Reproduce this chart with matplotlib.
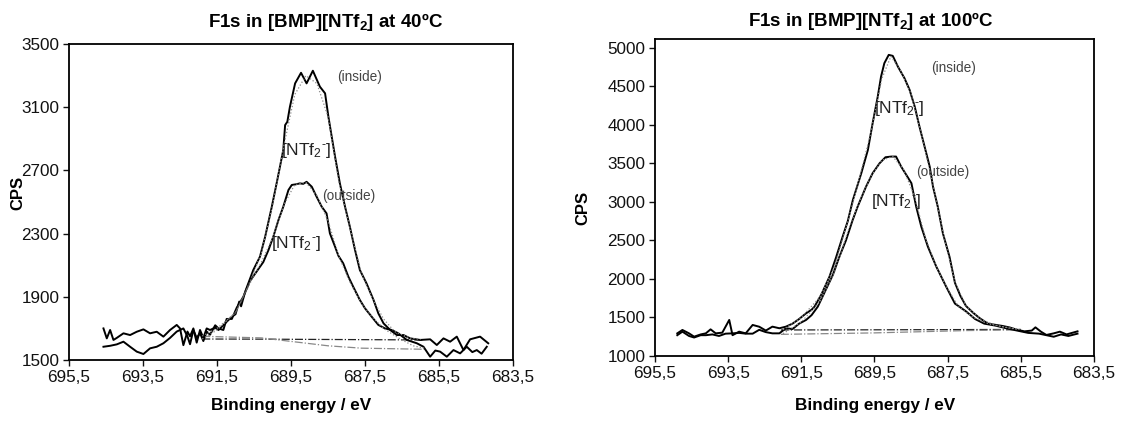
#!/usr/bin/env python3
"""
F1s XPS spectra of [BMP][NTf2] at 40 and 100 C (inside / outside)
"""

import matplotlib
matplotlib.use('Agg')
import matplotlib.pyplot as plt

plt.rcParams['font.family'] = ['Liberation Sans', 'DejaVu Sans']
plt.rcParams['mathtext.fontset'] = 'custom'
plt.rcParams['mathtext.rm'] = 'Liberation Sans'
plt.rcParams['mathtext.bf'] = 'Liberation Sans:bold'
plt.rcParams['mathtext.default'] = 'regular'

# ---- tick labels ----
x_ticks = [695.5, 693.5, 691.5, 689.5, 687.5, 685.5, 683.5]
x_tick_labels = ['695,5', '693,5', '691,5', '689,5', '687,5', '685,5', '683,5']
y_ticks_40 = [1500, 1900, 2300, 2700, 3100, 3500]
y_ticks_100 = [1000, 1500, 2000, 2500, 3000, 3500, 4000, 4500, 5000]

# ---- 40 C, inside ----
be_in_40 = [694.57, 694.48, 694.39, 694.30, 694.21, 694.03, 693.85, 693.67, 693.49, 693.31,
            693.13, 692.95, 692.77, 692.59, 692.50, 692.41, 692.30, 692.23, 692.14, 692.05,
            691.96, 691.87, 691.78, 691.69, 691.55, 691.46, 691.33, 691.24, 691.10, 691.00,
            690.90, 690.85, 690.74, 690.52, 690.34, 690.20, 690.02, 689.89, 689.80, 689.71,
            689.66, 689.60, 689.53, 689.39, 689.23, 689.08, 688.91, 688.72, 688.58, 688.49,
            688.40, 688.31, 688.18, 688.04, 687.91, 687.77, 687.64, 687.46, 687.27, 687.14,
            687.00, 686.82, 686.64, 686.46, 686.28, 686.01, 685.74, 685.56, 685.38, 685.20,
            685.02, 684.84, 684.66, 684.39, 684.17]
cps_in_40 = [1700, 1637, 1690, 1627, 1640, 1669, 1658, 1679, 1694, 1669,
             1679, 1648, 1690, 1722, 1700, 1594, 1680, 1650, 1700, 1610,
             1690, 1640, 1700, 1690, 1705, 1690, 1720, 1742, 1774, 1790,
             1870, 1840, 1932, 2070, 2154, 2280, 2470, 2618, 2723, 2829,
             2987, 3008, 3103, 3251, 3318, 3251, 3331, 3230, 3188, 3040,
             2913, 2787, 2618, 2470, 2344, 2196, 2070, 1985, 1880, 1795,
             1732, 1690, 1658, 1658, 1637, 1627, 1631, 1595, 1637, 1616,
             1648, 1563, 1631, 1648, 1606]

# ---- 40 C, outside ----
be_out_40 = [694.57, 694.39, 694.21, 694.03, 693.85, 693.67, 693.49, 693.31, 693.13, 692.95,
             692.77, 692.59, 692.41, 692.30, 692.23, 692.14, 692.05, 691.96, 691.87, 691.78,
             691.69, 691.55, 691.46, 691.33, 691.24, 691.10, 690.97, 690.79, 690.61, 690.43,
             690.25, 690.11, 689.98, 689.84, 689.71, 689.57, 689.48, 689.37, 689.26, 689.17,
             689.08, 688.94, 688.81, 688.67, 688.54, 688.45, 688.31, 688.22, 688.09, 687.95,
             687.82, 687.64, 687.50, 687.32, 687.14, 686.96, 686.78, 686.60, 686.37, 686.10,
             685.92, 685.74, 685.60, 685.47, 685.29, 685.11, 684.93, 684.75, 684.60, 684.48,
             684.35, 684.21]
cps_out_40 = [1584, 1590, 1599, 1616, 1584, 1553, 1538, 1574, 1584, 1606,
              1640, 1680, 1700, 1650, 1600, 1690, 1640, 1670, 1620, 1680,
              1660, 1720, 1700, 1690, 1760, 1760, 1830, 1900, 2000, 2060,
              2120, 2196, 2280, 2386, 2470, 2576, 2608, 2612, 2618, 2615,
              2628, 2597, 2534, 2470, 2428, 2302, 2217, 2160, 2112, 2027,
              1964, 1880, 1827, 1774, 1722, 1700, 1690, 1669, 1627, 1606,
              1584, 1521, 1560, 1553, 1521, 1563, 1542, 1584, 1550, 1563,
              1540, 1584]

# ---- 40 C, fits ----
be_fit_in_40 = [691.9, 691.5, 691.0, 690.6, 690.3, 690.0, 689.7, 689.4, 689.1, 688.8,
                688.5, 688.2, 687.9, 687.6, 687.3, 687.0, 686.7, 686.3, 686.0]
cps_fit_in_40 = [1652, 1700, 1800, 2000, 2180, 2480, 2850, 3180, 3300, 3250,
                 3040, 2620, 2330, 2050, 1890, 1760, 1680, 1640, 1630]
be_fit_out_40 = [691.9, 691.5, 691.0, 690.6, 690.3, 690.0, 689.7, 689.4, 689.1, 688.8,
                 688.5, 688.2, 687.9, 687.6, 687.3, 687.0, 686.6, 686.2, 685.9]
cps_fit_out_40 = [1633, 1690, 1800, 1990, 2120, 2270, 2480, 2610, 2625, 2540,
                  2380, 2150, 1990, 1860, 1770, 1700, 1640, 1590, 1575]

# ---- 40 C, backgrounds ----
be_bg_in_40 = [691.9, 690.3, 688.5, 686.7, 685.9]
cps_bg_in_40 = [1633, 1632, 1630, 1628, 1627]
be_bg_out_40 = [691.9, 690.3, 688.5, 687.6, 685.9]
cps_bg_out_40 = [1650, 1640, 1590, 1575, 1568]

# ---- 100 C, inside ----
be_in_100 = [694.89, 694.75, 694.57, 694.43, 694.25, 694.11, 693.98, 693.84, 693.66, 693.47,
             693.38, 693.20, 693.02, 692.83, 692.65, 692.47, 692.29, 692.10, 691.92, 691.74,
             691.56, 691.37, 691.22, 691.14, 690.95, 690.73, 690.55, 690.37, 690.23, 690.09,
             689.86, 689.68, 689.55, 689.41, 689.32, 689.23, 689.11, 689.00, 688.86, 688.68,
             688.54, 688.40, 688.27, 688.13, 687.99, 687.90, 687.77, 687.63, 687.45, 687.30,
             687.15, 687.00, 686.80, 686.62, 686.40, 686.20, 686.00, 685.80, 685.60, 685.40,
             685.20, 685.10, 684.95, 684.80, 684.60, 684.43, 684.25, 684.10, 683.95]
cps_in_100 = [1294, 1338, 1294, 1251, 1280, 1294, 1346, 1294, 1303, 1468,
              1270, 1316, 1294, 1403, 1380, 1330, 1381, 1360, 1381, 1420,
              1480, 1554, 1600, 1640, 1800, 2030, 2280, 2550, 2750, 3026,
              3373, 3675, 4022, 4368, 4627, 4801, 4909, 4896, 4757, 4606,
              4455, 4238, 3978, 3718, 3458, 3199, 2939, 2593, 2290, 1950,
              1780, 1650, 1560, 1490, 1420, 1405, 1390, 1370, 1340, 1320,
              1330, 1372, 1316, 1273, 1294, 1316, 1280, 1300, 1320]

# ---- 100 C, outside ----
be_out_100 = [694.89, 694.75, 694.57, 694.43, 694.25, 694.11, 693.93, 693.75, 693.57, 693.38,
              693.20, 693.02, 692.83, 692.65, 692.47, 692.29, 692.10, 691.92, 691.74, 691.56,
              691.37, 691.22, 691.05, 690.85, 690.64, 690.45, 690.28, 690.10, 689.96, 689.73,
              689.55, 689.36, 689.20, 689.04, 688.91, 688.77, 688.63, 688.49, 688.36, 688.22,
              688.04, 687.81, 687.54, 687.30, 687.00, 686.75, 686.50, 686.20, 685.90, 685.60,
              685.30, 685.00, 684.80, 684.60, 684.40, 684.20, 683.95]
cps_out_100 = [1270, 1316, 1260, 1240, 1270, 1270, 1280, 1260, 1290, 1294,
               1300, 1290, 1290, 1340, 1310, 1294, 1294, 1360, 1350, 1420,
               1468, 1530, 1640, 1840, 2050, 2300, 2500, 2760, 2939, 3199,
               3373, 3502, 3580, 3589, 3589, 3458, 3351, 3243, 2939, 2679,
               2419, 2160, 1900, 1680, 1580, 1480, 1420, 1395, 1360, 1330,
               1300, 1290, 1270, 1250, 1280, 1260, 1290]

# ---- 100 C, fits ----
be_fit_in_100 = [692.0, 691.5, 691.0, 690.6, 690.2, 689.9, 689.6, 689.3, 689.05, 688.8,
                 688.5, 688.2, 687.9, 687.6, 687.3, 687.0, 686.6, 686.2, 685.8, 685.5]
cps_fit_in_100 = [1340, 1500, 1760, 2150, 2800, 3330, 3900, 4600, 4890, 4720,
                  4400, 3850, 3220, 2550, 1960, 1650, 1480, 1400, 1360, 1345]
be_fit_out_100 = [692.0, 691.5, 691.0, 690.6, 690.2, 689.9, 689.6, 689.3, 689.0, 688.7,
                  688.4, 688.1, 687.8, 687.5, 687.2, 686.8, 686.4, 686.0, 685.6]
cps_fit_out_100 = [1290, 1440, 1700, 2080, 2650, 3020, 3330, 3540, 3590, 3420,
                   3060, 2520, 2150, 1870, 1640, 1500, 1420, 1380, 1350]

# ---- 100 C, backgrounds ----
be_bg_in_100 = [692.06, 689.5, 687.0, 685.5]
cps_bg_in_100 = [1338, 1340, 1343, 1345]
be_bg_out_100 = [692.06, 689.5, 687.0, 685.5]
cps_bg_out_100 = [1281, 1300, 1330, 1340]


def draw_panel(ax, spectra, fits, backgrounds, y_ticks, ylim):
    """Draw one XPS panel: spectra, fitted envelopes and backgrounds"""
    for be, cps in spectra:
        ax.plot(be, cps, color='black', lw=1.4, zorder=3)
    for be, cps in fits:
        ax.plot(be, cps, color='#888888', lw=0.9, ls=':', zorder=4)
    bg_colors = ['#222222', '#888888']
    for (be, cps), c in zip(backgrounds, bg_colors):
        ax.plot(be, cps, color=c, lw=0.9, ls='-.', zorder=2)

    ax.set_xlim(695.5, 683.5)
    ax.set_ylim(*ylim)
    ax.set_xticks(x_ticks)
    ax.set_xticklabels(x_tick_labels)
    ax.set_yticks(y_ticks)
    ax.tick_params(direction='out', length=4, width=1.0, labelsize=12.3,
                   colors='#111111', pad=3)
    for s in ax.spines.values():
        s.set_linewidth(1.3)


def main():
    fig = plt.figure(figsize=(11.32, 4.23), dpi=100)

    ax1 = fig.add_axes([0.0610, 0.1489, 0.3922, 0.7470])
    ax2 = fig.add_axes([0.5786, 0.1584, 0.3878, 0.7494])

    draw_panel(ax1,
               [(be_in_40, cps_in_40), (be_out_40, cps_out_40)],
               [(be_fit_in_40, cps_fit_in_40), (be_fit_out_40, cps_fit_out_40)],
               [(be_bg_in_40, cps_bg_in_40), (be_bg_out_40, cps_bg_out_40)],
               y_ticks_40, (1500, 3500))
    draw_panel(ax2,
               [(be_in_100, cps_in_100), (be_out_100, cps_out_100)],
               [(be_fit_in_100, cps_fit_in_100), (be_fit_out_100, cps_fit_out_100)],
               [(be_bg_in_100, cps_bg_in_100), (be_bg_out_100, cps_bg_out_100)],
               y_ticks_100, (1000, 5115))

    # annotations (subscript 2 then a short superscript hyphen)
    ntf = r'[NTf$_2{}^{\text{-}}$]'
    ax1.text(687.64, 3293, '(inside)', fontsize=9.8, color='#444444', ha='center', va='center')
    ax1.text(689.08, 2829, ntf, fontsize=12.5, color='#222222', ha='center', va='center')
    ax1.text(687.95, 2540, '(outside)', fontsize=9.8, color='#444444', ha='center', va='center')
    ax1.text(689.35, 2238, ntf, fontsize=12.5, color='#222222', ha='center', va='center')

    ax2.text(687.35, 4736, '(inside)', fontsize=9.8, color='#444444', ha='center', va='center')
    ax2.text(688.82, 4217, ntf, fontsize=12.5, color='#222222', ha='center', va='center')
    ax2.text(687.63, 3394, '(outside)', fontsize=9.8, color='#444444', ha='center', va='center')
    ax2.text(688.91, 3004, ntf, fontsize=12.5, color='#222222', ha='center', va='center')

    # titles and axis labels
    fig.text(326 / 1132, 1 - 22 / 423, r'F1s in [BMP][NTf$_\mathbf{2}$] at 40ºC',
             fontsize=13.5, fontweight='bold', ha='center', va='center')
    fig.text(871 / 1132, 1 - 21 / 423, r'F1s in [BMP][NTf$_\mathbf{2}$] at 100ºC',
             fontsize=13.5, fontweight='bold', ha='center', va='center')
    fig.text(18 / 1132, 1 - 193 / 423, 'CPS', fontsize=12, fontweight='bold',
             rotation=90, ha='center', va='center')
    fig.text(583 / 1132, 1 - 208 / 423, 'CPS', fontsize=12, fontweight='bold',
             rotation=90, ha='center', va='center')
    fig.text(291 / 1132, 1 - 405 / 423, 'Binding energy / eV', fontsize=12.3,
             fontweight='bold', ha='center', va='center')
    fig.text(875 / 1132, 1 - 405 / 423, 'Binding energy / eV', fontsize=12.3,
             fontweight='bold', ha='center', va='center')

    fig.savefig('out.png', dpi=100)


if __name__ == "__main__":
    main()
